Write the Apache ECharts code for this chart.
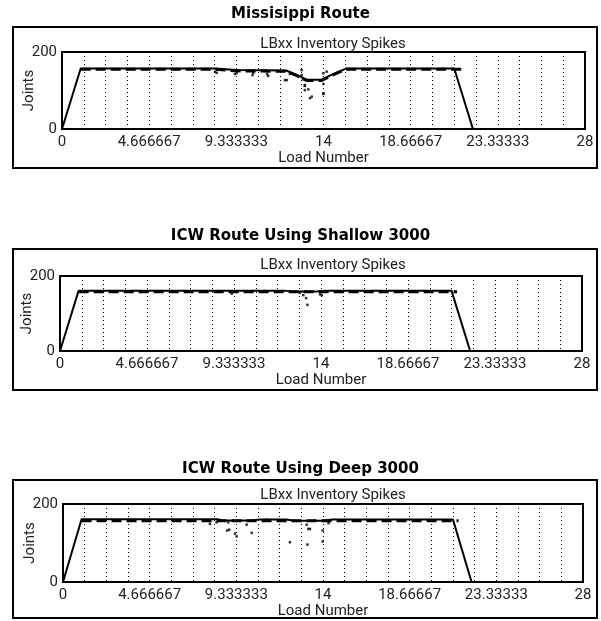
<!DOCTYPE html>
<html>
<head>
<meta charset="utf-8">
<script src="https://cdn.jsdelivr.net/npm/echarts@6/dist/echarts.min.js"></script>
<style>
  html, body { margin: 0; padding: 0; background: #fff; }
  #chart { width: 601px; height: 621px; }
</style>
</head>
<body>
<div id="chart"></div>
<script>
// ---------- data ----------
const titles = ['Missisippi Route', 'ICW Route Using Shallow 3000', 'ICW Route Using Deep 3000'];
const subtitle = 'LBxx Inventory Spikes';
const xName = 'Load Number';
const yName = 'Joints';
const xTickLabels = ['0', '4.666667', '9.333333', '14', '18.66667', '23.33333', '28'];
const yTickLabels = ['0', '200'];

// Mississippi route
const missSolid = [[0,0],[1,157],[8.2,157],[9.3,153],[12.0,152],[12.6,140],[13.1,128],[13.9,128],[14.4,140],[15.2,157],[21.0,157],[22.0,0]];
const missDashed = [[1,155],[8.2,155],[9.3,151],[12.0,150],[12.6,138],[13.1,126],[13.9,126],[14.4,138],[15.2,155],[21.4,155]];
const missDots = [[8.19,149],[8.28,146],[9.26,143],[9.35,145],[10.2,140],[10.24,146],[10.98,143],[11.04,138],[11.94,127],[12.03,127],[12.2,143],[12.83,140],[12.83,153],[12.9,129],[13.0,114],[13.0,112],[13.0,101],[13.19,103],[13.28,80],[13.37,84],[13.99,91],[14.0,117],[14.0,93],[13.99,145],[14.17,149]];

// ICW shallow
const shalSolid = [[0,0],[1,161],[12.0,161],[12.5,159],[13.8,159],[14.2,161],[21.0,161],[22.0,0]];
const shalDashed = [[1,158],[21.3,158]];
const shalDots = [[9.21,153],[12.87,155],[13.05,149],[13.2,141],[13.27,123],[13.95,151],[14.04,149]];

// ICW deep
const deepSolid = [[0,0],[1,161],[8.3,161],[8.6,158],[10.2,158],[10.6,160],[12.0,160],[12.5,157],[14.0,157],[14.5,160],[21.0,160],[22.0,0]];
const deepDashed = [[1,157],[21.3,157]];
const deepDots = [[7.91,149],[8.27,153],[8.84,132],[8.9,153],[8.95,134],[9.26,124],[9.35,117],[9.89,147],[10.16,126],[10.97,160],[12.22,102],[13.12,147],[13.21,136],[13.3,136],[13.16,96],[13.98,132],[13.98,104],[14.3,151]];

const panels = [
  { solid: missSolid, dashed: missDashed, dots: missDots },
  { solid: shalSolid, dashed: shalDashed, dots: shalDots },
  { solid: deepSolid, dashed: deepDashed, dots: deepDots }
];

// ---------- layout ----------
const layout = [
  { box: [13, 27, 584, 141], plot: [62, 52, 523, 77], titleTop: 2, subTop: 32 },
  { box: [13, 249, 584, 141], plot: [60, 276, 522, 75], titleTop: 224, subTop: 253 },
  { box: [13, 480, 584, 138], plot: [63, 504, 520, 78], titleTop: 457, subTop: 483 }
];

const XMAX = 28, STEPS = 24, STEP = XMAX / STEPS;
const FONT = 'Roboto';

const chart = echarts.init(document.getElementById('chart'), null, { renderer: 'canvas' });

const grid = [], xAxis = [], yAxis = [], series = [], title = [], graphic = [];
layout.forEach((L, i) => {
  grid.push({ left: L.plot[0], top: L.plot[1], width: L.plot[2], height: L.plot[3],
    show: true, borderColor: '#000', borderWidth: 2, backgroundColor: 'transparent' });
  xAxis.push({
    type: 'value', gridIndex: i, min: 0, max: XMAX, interval: STEP,
    name: xName, nameLocation: 'middle', nameGap: 22, nameMoveOverlap: false,
    nameTextStyle: { color: '#222', fontFamily: FONT, fontSize: 15 },
    axisLine: { show: false }, axisTick: { show: false },
    axisLabel: {
      color: '#222', fontFamily: FONT, fontSize: 15, margin: 6, showMinLabel: true, showMaxLabel: true,
      formatter: v => { const k = Math.round(v / STEP); return k % 4 === 0 ? xTickLabels[k / 4] : ''; }
    },
    splitLine: { show: true, lineStyle: { color: '#000', width: 1, type: [1, 3] } }
  });
  yAxis.push({
    type: 'value', gridIndex: i, min: 0, max: 200, interval: 200,
    name: yName, nameLocation: 'middle', nameGap: 25, nameRotate: 90, nameMoveOverlap: false,
    nameTextStyle: { color: '#222', fontFamily: FONT, fontSize: 15 },
    axisLine: { show: false }, axisTick: { show: false }, splitLine: { show: false },
    axisLabel: { color: '#222', fontFamily: FONT, fontSize: 15, margin: 5,
      formatter: v => (v === 0 ? yTickLabels[0] : yTickLabels[1]) }
  });
  const P = panels[i];
  series.push({
    type: 'line', xAxisIndex: i, yAxisIndex: i, data: P.dashed, symbol: 'none',
    lineStyle: { color: '#000', width: 3, type: [10, 5] }, z: 3
  });
  series.push({
    type: 'line', xAxisIndex: i, yAxisIndex: i, data: P.solid, symbol: 'none',
    lineStyle: { color: '#000', width: 2 }, z: 4
  });
  series.push({
    type: 'scatter', xAxisIndex: i, yAxisIndex: i, data: P.dots, symbol: 'rect', symbolSize: 2.5,
    itemStyle: { color: '#000' }, z: 5
  });
  title.push({ text: titles[i], left: 'center', top: L.titleTop,
    textStyle: { fontFamily: 'DejaVu Sans', fontWeight: 'bold', fontSize: 15, color: '#000' } });
  title.push({ text: subtitle, left: 328, textAlign: 'center', top: L.subTop,
    textStyle: { fontFamily: FONT, fontWeight: 'normal', fontSize: 15, color: '#222' } });
  graphic.push({ type: 'rect', shape: { x: L.box[0], y: L.box[1], width: L.box[2], height: L.box[3] },
    style: { fill: 'none', stroke: '#000', lineWidth: 2 }, z: 0 });
});

chart.setOption({
  animation: false,
  backgroundColor: '#fff',
  title, grid, xAxis, yAxis, series, graphic
});
</script>
</body>
</html>
